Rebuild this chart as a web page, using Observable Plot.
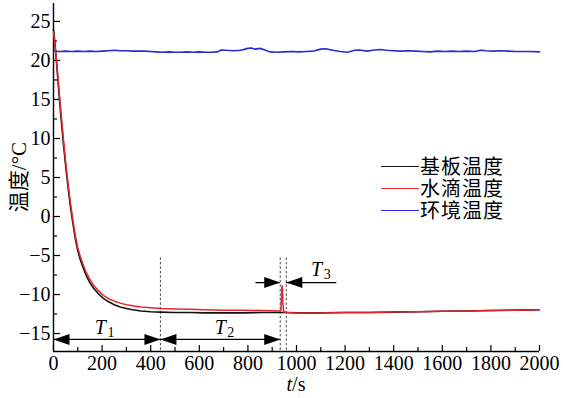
<!DOCTYPE html>
<html><head><meta charset="utf-8">
<script src="https://cdn.jsdelivr.net/npm/d3@7"></script>
<script src="https://cdn.jsdelivr.net/npm/@observablehq/plot@0.6"></script>
<style>
body{margin:0;background:#fff;}
#wrap{position:relative;width:563px;height:398px;overflow:hidden;font-family:"Liberation Serif","Times New Roman",Tinos,"DejaVu Serif",serif;color:#000;}
#wrap svg{position:absolute;left:0;top:0;}
.ylab{position:absolute;left:18px;top:177px;transform:translate(-50%,-50%) rotate(-90deg);font-size:21px;white-space:nowrap;line-height:1;}
.xlab{position:absolute;left:296px;top:374px;transform:translateX(-50%);font-size:20px;line-height:20px;white-space:nowrap;}
.legend{position:absolute;left:381px;top:155px;font-family:"Noto Sans CJK SC",sans-serif;font-size:20px;}
.legend div{display:flex;align-items:center;height:22px;}
.legend span.sw{display:inline-block;width:38px;height:0;border-top:1.6px solid;margin-right:1px;}
.legend span.nm{display:inline-block;height:22px;line-height:22px;overflow:visible;letter-spacing:1px;}
</style></head><body><div id="wrap"></div>
<script>
// ---- data ----
const seriesNames = ["基板温度", "水滴温度", "环境温度"];
const seriesColors = ["#111111", "#e3262b", "#2a2ad0"];

const substrateTime = [0,5,12,22,30,40,50,60,70,80,90,100,110,120,135,150,165,185,205,225,250,275,300,325,360,400,440,500,560,620,700,780,860,930,960,1000,1100,1200,1300,1400,1500,1600,1700,1800,1900,2000];
const substrateTemp = [24.0,22.5,19.9,16.0,13.0,9.6,6.5,3.7,1.2,-0.9,-2.9,-4.4,-5.5,-6.4,-7.6,-8.5,-9.2,-9.9,-10.5,-10.9,-11.3,-11.6,-11.8,-11.95,-12.1,-12.2,-12.25,-12.3,-12.3,-12.35,-12.35,-12.35,-12.3,-12.3,-12.3,-12.35,-12.35,-12.3,-12.3,-12.25,-12.2,-12.15,-12.1,-12.05,-12.0,-11.95];

const dropletTime = [0,5,12,22,30,40,50,60,70,80,90,100,110,120,135,150,165,185,205,225,250,275,300,325,360,400,440,500,560,620,700,780,860,930,936,940,942,944,947,960,1000,1100,1200,1300,1400,1500,1600,1700,1800,1900,2000];
const dropletTemp = [23.6,22.2,20.2,16.5,13.6,10.2,7.0,4.2,1.7,-0.5,-2.5,-4.0,-5.1,-6.0,-7.2,-8.1,-8.8,-9.5,-10.1,-10.5,-10.85,-11.1,-11.3,-11.45,-11.6,-11.7,-11.8,-11.85,-11.9,-11.95,-12.0,-12.0,-12.05,-12.1,-12.05,-9.0,-8.9,-11.0,-12.2,-12.3,-12.35,-12.35,-12.3,-12.3,-12.25,-12.2,-12.15,-12.1,-12.05,-12.0,-11.95];

const ambientTime = [0,25,50,75,100,125,150,175,200,225,250,275,300,325,350,375,400,425,450,475,500,525,550,575,600,625,650,675,690,710,740,770,800,815,830,850,870,890,920,950,980,1010,1040,1070,1100,1120,1150,1180,1210,1240,1260,1290,1320,1345,1370,1400,1430,1460,1490,1520,1550,1580,1610,1640,1670,1700,1730,1760,1780,1810,1840,1870,1900,1930,1960,2000];
const ambientTemp = [21.2,21.15,21.2,21.15,21.2,21.15,21.2,21.15,21.2,21.25,21.3,21.25,21.25,21.2,21.2,21.2,21.15,21.1,21.05,21.1,21.05,21.05,21.1,21.05,21.1,21.05,21.05,21.1,21.35,21.3,21.25,21.3,21.55,21.6,21.45,21.55,21.35,21.1,21.05,21.1,21.15,21.1,21.15,21.2,21.45,21.5,21.3,21.15,21.05,21.3,21.35,21.2,21.35,21.4,21.3,21.25,21.2,21.25,21.2,21.15,21.1,21.2,21.15,21.2,21.15,21.2,21.15,21.3,21.25,21.2,21.25,21.2,21.15,21.15,21.15,21.1];

const phaseEdges = [0, 440, 933, 958];
const phaseNames = ["1", "2", "3"];
const xMajorTicks = [0,200,400,600,800,1000,1200,1400,1600,1800,2000];
const xMinorTicks = [100,300,500,700,900,1100,1300,1500,1700,1900];
const yMajorTicks = [-15,-10,-5,0,5,10,15,20,25];
const yMinorTicks = [-12.5,-7.5,-2.5,2.5,7.5,12.5,17.5,22.5];

// ---- build ----
const W = 563, H = 398;
const yDomain = [-17.3, 27.3];
const toRows = (ts, vs) => ts.map((t, i) => ({t, v: vs[i]}));
const substrate = toRows(substrateTime, substrateTemp);
const droplet = toRows(dropletTime, dropletTemp);
const ambient = toRows(ambientTime, ambientTemp);

// annotation layout (in data units)
const arrowY12 = -15.75, arrowY3 = -8.47, dashTop = -5.3;
const segs = [
  {a: phaseEdges[0], b: phaseEdges[1], y: arrowY12},
  {a: phaseEdges[1], b: phaseEdges[2], y: arrowY12},
  {a: 833, b: phaseEdges[2], y: arrowY3},
  {a: phaseEdges[3], b: 1166, y: arrowY3}
];
const headsRight = [{x: phaseEdges[1], y: arrowY12}, {x: phaseEdges[2], y: arrowY12}, {x: phaseEdges[2], y: arrowY3}];
const headsLeft = [{x: phaseEdges[0], y: arrowY12}, {x: phaseEdges[1], y: arrowY12}, {x: phaseEdges[3], y: arrowY3}];
const labels = [
  {x: 193, y: -15.05, s: phaseNames[0]},
  {x: 686, y: -15.05, s: phaseNames[1]},
  {x: 1083, y: -7.6, s: phaseNames[2]}
];
const rightHead = {draw(c){c.moveTo(0,0);c.lineTo(-16,-5.5);c.lineTo(-16,5.5);c.closePath();}};
const leftHead = {draw(c){c.moveTo(0,0);c.lineTo(16,-5.5);c.lineTo(16,5.5);c.closePath();}};
const fmt = d => String(d).replace("-", "\u2212");
const serif = "'Liberation Serif', 'Times New Roman', Tinos, 'DejaVu Serif', serif";

const chart = Plot.plot({
  width: W, height: H,
  marginLeft: 53, marginRight: 24, marginTop: 3, marginBottom: 47,
  x: {domain: [0, 2000]},
  y: {domain: yDomain},
  style: {fontFamily: serif, fontSize: "20px", background: "white", overflow: "visible", color: "#000"},
  marks: [
    Plot.axisX({ticks: xMajorTicks, tickSize: -6, tickFormat: () => "", label: null, strokeWidth: 1.2}),
    Plot.axisX({ticks: xMinorTicks, tickSize: -4, tickFormat: () => "", label: null, strokeWidth: 1.2}),
    Plot.axisX({ticks: xMajorTicks, tickSize: 0, tickPadding: 4, tickFormat: fmt, label: null, fontSize: 20}),
    Plot.axisY({ticks: yMajorTicks, tickSize: -7, tickFormat: () => "", label: null, strokeWidth: 1.2}),
    Plot.axisY({ticks: yMinorTicks, tickSize: -4, tickFormat: () => "", label: null, strokeWidth: 1.2}),
    Plot.axisY({ticks: yMajorTicks, tickSize: 0, tickPadding: 3, tickFormat: fmt, label: null, fontSize: 20}),
    Plot.ruleX([0], {stroke: "#000", strokeWidth: 1.4}),
    Plot.ruleY([yDomain[0]], {stroke: "#000", strokeWidth: 1.4}),
    Plot.ruleX(phaseEdges.slice(1), {y1: dashTop, y2: yDomain[0], stroke: "#333", strokeWidth: 0.9, strokeDasharray: "2.5,2"}),
    Plot.line(ambient, {x: "t", y: "v", stroke: seriesColors[2], strokeWidth: 1.6}),
    Plot.line(substrate, {x: "t", y: "v", stroke: seriesColors[0], strokeWidth: 1.6}),
    Plot.line(droplet, {x: "t", y: "v", stroke: seriesColors[1], strokeWidth: 1.5}),
    Plot.ruleY(segs, {y: "y", x1: "a", x2: "b", stroke: "#000", strokeWidth: 1.3}),
    Plot.dot(headsRight, {x: "x", y: "y", symbol: rightHead, fill: "#000", stroke: "none"}),
    Plot.dot(headsLeft, {x: "x", y: "y", symbol: leftHead, fill: "#000", stroke: "none"}),
    Plot.text(labels, {x: "x", y: "y", text: () => "T", fontStyle: "italic", fontSize: 20, textAnchor: "middle", lineAnchor: "bottom"}),
    Plot.text(labels, {x: "x", y: "y", text: "s", fontSize: 14, textAnchor: "start", lineAnchor: "bottom", dx: 7, dy: 3})
  ]
});
const wrap = document.getElementById("wrap");
wrap.appendChild(chart);

const yl = document.createElement("div");
yl.className = "ylab";
yl.innerHTML = '<span style="font-family:\'Noto Sans CJK SC\'">温度</span>/°C';
wrap.appendChild(yl);
const xl = document.createElement("div");
xl.className = "xlab";
xl.innerHTML = "<i>t</i>/s";
wrap.appendChild(xl);
const lg = document.createElement("div");
lg.className = "legend";
seriesNames.forEach((n, i) => {
  const r = document.createElement("div");
  r.innerHTML = `<span class="sw" style="border-color:${seriesColors[i]}"></span><span class="nm">${n}</span>`;
  lg.appendChild(r);
});
wrap.appendChild(lg);
</script>
</body></html>
